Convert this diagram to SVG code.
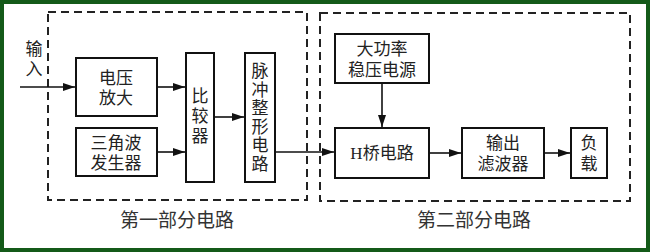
<svg xmlns="http://www.w3.org/2000/svg" width="650" height="252" viewBox="0 0 650 252">
<defs>
<marker id="ah" markerWidth="12" markerHeight="8" refX="12" refY="4" orient="auto" markerUnits="userSpaceOnUse">
<path d="M0,0 L12,4 L0,8 Z" fill="#111"/>
</marker>
<style>
.box{fill:#fff;stroke:#111;stroke-width:2}
.dash{fill:none;stroke:#222;stroke-width:2;stroke-dasharray:8,5}
.t{font-family:"Liberation Serif","Noto Sans CJK SC",serif;font-size:17px;fill:#222;text-anchor:middle}
.lbl{font-family:"Liberation Serif","Noto Sans CJK SC",serif;font-size:19px;fill:#333;text-anchor:middle}
.c{stroke:#111;stroke-width:1.6;fill:none;marker-end:url(#ah)}
</style>
</defs>
<rect x="0" y="0" width="650" height="252" fill="#fff"/>
<rect x="2" y="2" width="646" height="248" fill="none" stroke="#145a19" stroke-width="4"/>
<g id="part1">
<rect class="dash" x="48" y="12" width="259" height="188"/>
<text class="lbl" x="177" y="227">第一部分电路</text>
</g>
<g id="part2">
<rect class="dash" x="320" y="13" width="310" height="188"/>
<text class="lbl" x="474" y="227">第二部分电路</text>
</g>
<g id="input"><text class="t" x="34" y="55">输</text><text class="t" x="34" y="75">入</text></g>
<g id="amp"><rect class="box" x="76" y="58" width="81" height="58"/><text class="t" x="116" y="84">电压</text><text class="t" x="116" y="104">放大</text></g>
<g id="tri"><rect class="box" x="76" y="128" width="81" height="48"/><text class="t" x="116" y="149">三角波</text><text class="t" x="116" y="169">发生器</text></g>
<g id="cmp"><rect class="box" x="186" y="53" width="28" height="129"/><text class="t" x="200" y="102">比</text><text class="t" x="200" y="122">较</text><text class="t" x="200" y="142">器</text></g>
<g id="pulse"><rect class="box" x="245" y="53" width="30" height="129"/><text class="t" x="260" y="77">脉</text><text class="t" x="260" y="95.5">冲</text><text class="t" x="260" y="114">整</text><text class="t" x="260" y="132.5">形</text><text class="t" x="260" y="151">电</text><text class="t" x="260" y="169.5">路</text></g>
<g id="psu"><rect class="box" x="335" y="34" width="94" height="49"/><text class="t" x="382" y="55">大功率</text><text class="t" x="382" y="76">稳压电源</text></g>
<g id="hb"><rect class="box" x="335" y="128" width="94" height="50"/><text class="t" x="382" y="159">H桥电路</text></g>
<g id="flt"><rect class="box" x="462" y="128" width="82" height="50"/><text class="t" x="503" y="149">输出</text><text class="t" x="503" y="170">滤波器</text></g>
<g id="load"><rect class="box" x="571" y="128" width="36" height="50"/><text class="t" x="589" y="149">负</text><text class="t" x="589" y="170">载</text></g>
<g id="connectors">
<line class="c" x1="20" y1="87" x2="75" y2="87"/>
<line class="c" x1="157" y1="87" x2="185" y2="87"/>
<line class="c" x1="157" y1="152" x2="185" y2="152"/>
<line class="c" x1="214" y1="117" x2="244" y2="117"/>
<line class="c" x1="275" y1="152" x2="334" y2="152"/>
<line class="c" x1="382" y1="83" x2="382" y2="127"/>
<line class="c" x1="429" y1="153" x2="461" y2="153"/>
<line class="c" x1="544" y1="153" x2="570" y2="153"/>
</g>
</svg>
